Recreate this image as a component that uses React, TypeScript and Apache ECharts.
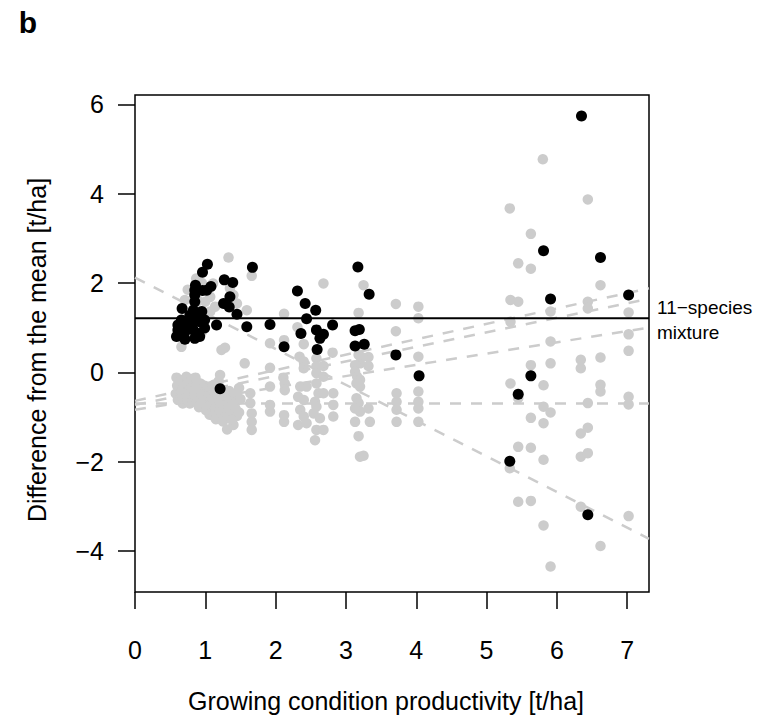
import React, { useEffect, useRef } from "react";
import * as echarts from "echarts";

const xTicks = [0, 1, 2, 3, 4, 5, 6, 7];
const yTicks = [-4, -2, 0, 2, 4, 6];
const xRange = [0, 7.31];
const yRange = [-4.92, 6.21];
const mixtureMean = 1.21;
const lineIntercepts = [2.12, -0.7, -0.64, -0.73, -0.84];
const lineSlopes = [-0.8, 0.0, 0.345, 0.325, 0.252];

const grayCluster: number[][] = [
  [0.59, -0.12], [0.6, -0.3], [0.58, -0.48], [0.61, -0.62], [0.66, -0.18], [0.67, -0.4], [0.65, -0.55], [0.68, -0.7],
  [0.73, -0.1], [0.74, -0.27], [0.72, -0.45], [0.75, -0.63], [0.8, -0.15], [0.79, -0.35], [0.81, -0.52], [0.78, -0.7],
  [0.86, -0.12], [0.87, -0.3], [0.85, -0.48], [0.88, -0.66], [0.93, -0.25], [0.92, -0.42], [0.94, -0.58], [0.91, -0.78],
  [0.99, -0.3], [1.0, -0.5], [0.98, -0.68], [1.01, -0.85], [1.06, -0.32], [1.05, -0.55], [1.08, -0.72], [1.06, -0.95],
  [1.12, -0.28], [1.13, -0.45], [1.11, -0.62], [1.14, -0.8], [1.12, -0.98], [1.19, -0.2], [1.18, -0.52], [1.21, -0.68],
  [1.2, -0.85], [1.22, -1.0], [1.27, -0.4], [1.28, -0.58], [1.26, -0.75], [1.29, -0.92], [1.27, -1.02], [1.34, -0.42],
  [1.35, -0.6], [1.33, -0.78], [1.36, -0.95], [1.42, -0.48], [1.44, -0.65], [1.43, -0.82], [1.45, -0.98], [1.21, -0.06],
  [1.31, -1.28], [1.4, -1.18], [1.56, 0.2], [1.23, 0.5], [1.28, 0.55], [0.66, 0.57], [0.69, 0.72],
  [1.15, -1.05], [1.25, -1.1], [1.38, -1.06], [1.48, -0.9], [1.5, -0.6], [1.48, -0.35],
];

const grayUpperLeft: number[][] = [
  [0.62, 0.95], [0.7, 1.05], [0.78, 1.2], [0.85, 1.45], [0.9, 1.6], [0.95, 2.0], [0.87, 2.1], [1.0, 1.58], [1.07, 1.69],
  [0.71, 1.62], [1.11, 1.99], [1.35, 1.88], [1.4, 1.73], [1.45, 1.54], [1.07, 1.36], [1.14, 1.47], [1.59, 1.39],
  [1.66, 2.16], [1.33, 2.57], [0.8, 0.85], [0.95, 0.9], [1.0, 1.2], [0.75, 1.85],
  [1.64, -0.47], [1.64, -0.69], [1.66, -0.92], [1.66, -1.11], [1.66, -1.29],
];

const grayMiddle: number[][] = [
  [1.92, 0.65], [1.92, 0.1], [1.92, -0.32], [1.92, -0.73], [1.92, -0.88],
  [2.12, 1.31], [2.12, 0.72], [2.11, -0.12], [2.13, -0.25], [2.13, -0.4], [2.12, -0.96], [2.12, -1.11],
  [2.31, 1.01], [2.4, 0.63], [2.34, 0.35], [2.4, 0.24], [2.4, 0.09], [2.35, -0.32], [2.44, -0.32], [2.32, -0.55],
  [2.4, -0.62], [2.35, -0.84], [2.4, -0.99], [2.32, -1.18], [2.44, -1.14],
  [2.68, 1.99], [2.58, 0.31], [2.58, 0.13], [2.68, 0.14], [2.58, -0.02], [2.68, -0.1], [2.58, -0.25], [2.61, -0.47],
  [2.68, -0.47], [2.56, -0.66], [2.58, -0.77], [2.54, -0.92], [2.63, -1.03], [2.58, -1.29], [2.68, -1.29], [2.56, -1.52],
  [2.81, 0.44], [2.82, -0.47], [2.82, -0.73], [2.82, -0.99],
  [3.25, 1.95], [3.18, 1.33], [3.18, 0.39], [3.22, 0.34], [3.32, 0.34], [3.2, 0.2], [3.13, 0.16], [3.13, 0.01],
  [3.32, 0.14], [3.16, -0.1], [3.2, -0.17], [3.15, -0.25], [3.2, -0.32], [3.15, -0.58], [3.18, -0.69], [3.13, -0.81],
  [3.2, -0.88], [3.13, -1.11], [3.32, -0.81], [3.34, -1.11], [3.18, -1.43], [3.2, -1.89], [3.25, -1.87],
  [3.71, 1.53], [3.71, 0.92], [3.72, -0.47], [3.72, -0.66], [3.72, -0.84], [3.72, -1.11],
  [4.03, 1.47], [4.03, 1.21], [4.03, 0.35], [4.03, -0.43], [4.03, -0.66], [4.03, -0.81], [4.03, -1.11],
];

const grayRight: number[][] = [
  [5.8, 4.77], [6.44, 3.87], [5.33, 3.67], [5.63, 3.1], [5.45, 2.44], [5.63, 2.32], [6.62, 1.95], [5.34, 1.62],
  [5.45, 1.58], [6.44, 1.58], [6.44, 1.43], [5.91, 1.36], [7.02, 1.34], [5.34, 1.13], [5.91, 0.69], [7.02, 0.85],
  [7.02, 0.48], [5.63, 0.16], [5.91, 0.2], [6.34, 0.28], [6.34, 0.09], [6.62, 0.33], [5.34, -0.25], [5.81, -0.29],
  [6.62, -0.28], [6.62, -0.43], [5.45, -0.58], [5.81, -0.77], [5.91, -0.9], [5.63, -1.02], [5.81, -1.14], [6.44, -0.69],
  [7.02, -0.55], [7.02, -0.72], [6.34, -1.37], [6.44, -1.24], [5.45, -1.67], [5.63, -1.69], [5.33, -2.15], [5.81, -1.96],
  [6.34, -1.89], [6.44, -1.81], [5.45, -2.9], [5.63, -2.88], [6.34, -3.01], [7.02, -3.22], [5.81, -3.43], [6.62, -3.89],
  [5.91, -4.35],
];

const blackPoints: number[][] = [
  [6.35, 5.74], [5.81, 2.72], [6.62, 2.57], [5.91, 1.64], [7.02, 1.73], [5.63, -0.08], [5.45, -0.49], [5.33, -1.99],
  [6.44, -3.19],
  [3.17, 2.36], [2.31, 1.82], [3.33, 1.75], [2.42, 1.54], [2.57, 1.39], [2.44, 1.2], [1.92, 1.07], [2.81, 1.06],
  [2.58, 0.95], [2.68, 0.85], [2.63, 0.76], [2.36, 0.87], [3.13, 0.93], [3.19, 0.96], [2.12, 0.57], [2.59, 0.51],
  [3.13, 0.59], [3.26, 0.63], [3.71, 0.39], [4.04, -0.08],
  [1.21, -0.37],
  [1.03, 2.42], [0.96, 2.24], [1.67, 2.35], [1.27, 2.07], [1.39, 2.01], [1.08, 1.92], [1.02, 1.84], [0.96, 1.83],
  [0.85, 1.84], [0.86, 1.95], [0.85, 1.73], [1.35, 1.69], [1.26, 1.54], [1.34, 1.46], [0.85, 1.58], [0.67, 1.43],
  [0.83, 1.39], [0.95, 1.36], [0.78, 1.28], [0.88, 1.24], [1.45, 1.3], [0.66, 1.17], [0.73, 1.1], [0.61, 1.06],
  [0.8, 1.06], [0.92, 1.13], [0.99, 1.17], [1.16, 1.06], [1.59, 1.02], [0.61, 0.95], [0.71, 0.91], [0.83, 0.95],
  [0.9, 0.87], [0.99, 0.99], [0.59, 0.8], [0.71, 0.74], [0.85, 0.76], [0.92, 0.8],
];

const FONT = "'Liberation Sans', Arial, Helvetica, sans-serif";
const GRAY = "#CCCCCC";

const fmt = (v: number) => (v < 0 ? "\u2212" + Math.abs(v) : String(v));

export default function App() {
  const ref = useRef<HTMLDivElement>(null);
  useEffect(() => {
    const chart = echarts.init(ref.current!, null, { renderer: "svg" });
    const dashed = lineIntercepts.map((a, i) => ({
      type: "line",
      data: [
        [xRange[0], a + lineSlopes[i] * xRange[0]],
        [xRange[1], a + lineSlopes[i] * xRange[1]],
      ],
      showSymbol: false,
      symbol: "none",
      silent: true,
      lineStyle: { color: GRAY, width: 2.5, type: [11, 10], opacity: 1 },
      z: 3,
    }));
    chart.setOption({
      animation: false,
      backgroundColor: "#fff",
      textStyle: { fontFamily: FONT },
      grid: {
        left: 135,
        top: 95,
        width: 514,
        height: 497,
        show: true,
        borderColor: "#000",
        borderWidth: 1.5,
        backgroundColor: "transparent",
      },
      xAxis: {
        type: "value",
        min: xRange[0],
        max: xRange[1],
        axisLine: { show: false, onZero: false },
        splitLine: { show: false },
        axisTick: {
          show: true,
          inside: false,
          length: 17,
          customValues: xTicks,
          lineStyle: { color: "#000", width: 1.5 },
        },
        axisLabel: {
          customValues: xTicks,
          formatter: fmt,
          fontSize: 25,
          color: "#000",
          margin: 45,
          fontFamily: FONT,
        },
      },
      yAxis: {
        type: "value",
        min: yRange[0],
        max: yRange[1],
        axisLine: { show: false, onZero: false },
        splitLine: { show: false },
        axisTick: {
          show: true,
          inside: false,
          length: 17,
          customValues: yTicks,
          lineStyle: { color: "#000", width: 1.5 },
        },
        axisLabel: {
          customValues: yTicks,
          formatter: fmt,
          fontSize: 25,
          color: "#000",
          margin: 31,
          fontFamily: FONT,
        },
      },
      series: [
        {
          type: "scatter",
          data: [...grayCluster, ...grayUpperLeft, ...grayMiddle, ...grayRight],
          symbolSize: 10.5,
          itemStyle: { color: GRAY, opacity: 1 },
          silent: true,
          z: 2,
        },
        ...dashed,
        {
          type: "line",
          data: [
            [xRange[0], mixtureMean],
            [xRange[1], mixtureMean],
          ],
          symbol: "none",
          showSymbol: false,
          silent: true,
          lineStyle: { color: "#000", width: 2, opacity: 1 },
          z: 4,
        },
        {
          type: "scatter",
          data: blackPoints,
          symbolSize: 11,
          itemStyle: { color: "#000", opacity: 1 },
          silent: true,
          z: 5,
        },
      ],
      graphic: [
        {
          type: "text",
          x: 28,
          y: 22,
          style: {
            text: "b",
            font: `bold 30px ${FONT}`,
            fill: "#000",
            align: "center",
            verticalAlign: "middle",
          },
        },
        {
          type: "text",
          x: 386,
          y: 701,
          style: {
            text: "Growing condition productivity [t/ha]",
            font: `25px ${FONT}`,
            fill: "#000",
            align: "center",
            verticalAlign: "middle",
          },
        },
        {
          type: "text",
          x: 37,
          y: 350,
          rotation: Math.PI / 2,
          style: {
            text: "Difference from the mean [t/ha]",
            font: `25px ${FONT}`,
            fill: "#000",
            align: "center",
            verticalAlign: "middle",
          },
        },
        {
          type: "text",
          x: 657,
          y: 307,
          style: {
            text: "11\u2212species",
            font: `19px ${FONT}`,
            fill: "#000",
            align: "left",
            verticalAlign: "middle",
          },
        },
        {
          type: "text",
          x: 657,
          y: 332,
          style: {
            text: "mixture",
            font: `19px ${FONT}`,
            fill: "#000",
            align: "left",
            verticalAlign: "middle",
          },
        },
      ],
    });
    return () => chart.dispose();
  }, []);
  return (
    <div
      ref={ref}
      style={{ position: "fixed", left: 0, top: 0, width: 769, height: 722, background: "#fff" }}
    />
  );
}
